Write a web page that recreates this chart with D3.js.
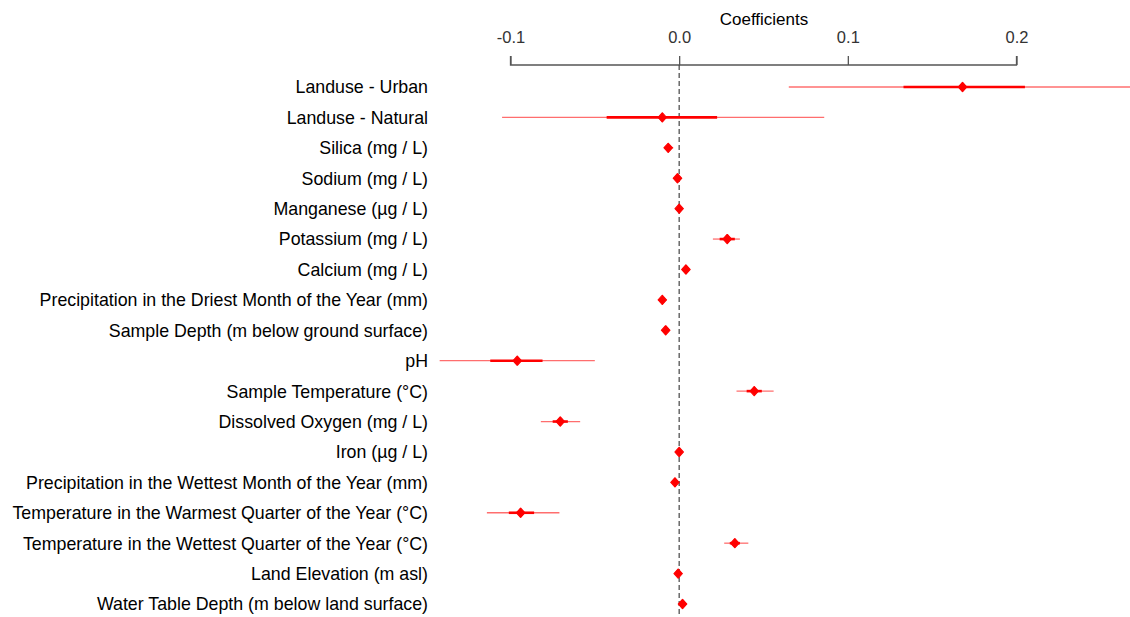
<!DOCTYPE html>
<html lang="en">
<head>
	<meta charset="UTF-8">
	<title>Coefficients</title>
	<script type="text/javascript" src="https://cdn.jsdelivr.net/npm/d3@7"></script>
	<style>
		body { margin: 0; background: #fff; }
		text { font-family: "Liberation Sans", Arial, sans-serif; }
		.label { font-size: 17.8px; fill: #000; }
		.tick text { font-size: 16.5px; fill: #333; }
		.axis path, .axis line { stroke: #555; stroke-width: 1.3px; }
	</style>
</head>
<body>
<script type="text/javascript">
	var labels = [
		'Landuse - Urban', 'Landuse - Natural', 'Silica (mg / L)', 'Sodium (mg / L)',
		'Manganese (\u00b5g / L)', 'Potassium (mg / L)', 'Calcium (mg / L)',
		'Precipitation in the Driest Month of the Year (mm)',
		'Sample Depth (m below ground surface)', 'pH', 'Sample Temperature (\u00b0C)',
		'Dissolved Oxygen (mg / L)', 'Iron (\u00b5g / L)',
		'Precipitation in the Wettest Month of the Year (mm)',
		'Temperature in the Warmest Quarter of the Year (\u00b0C)',
		'Temperature in the Wettest Quarter of the Year (\u00b0C)',
		'Land Elevation (m asl)', 'Water Table Depth (m below land surface)'
	];
	var estimate = [0.168, -0.010, -0.0065, -0.001, 0.000, 0.0285, 0.004, -0.010, -0.008,
		-0.096, 0.0445, -0.0705, 0.000, -0.0025, -0.094, 0.033, -0.0006, 0.002];
	// inner interval (thick)
	var innerLo = [0.133, -0.043, -0.008, -0.0015, -0.0004, 0.024, 0.003, -0.0115, -0.009,
		-0.112, 0.040, -0.075, -0.0004, -0.003, -0.101, 0.030, -0.001, 0.0015];
	var innerHi = [0.205, 0.0225, -0.005, -0.0005, 0.0004, 0.033, 0.005, -0.0085, -0.007,
		-0.081, 0.049, -0.066, 0.0004, -0.002, -0.086, 0.036, -0.0002, 0.0035];
	// outer interval (thin)
	var outerLo = [0.065, -0.105, -0.009, -0.002, -0.0008, 0.020, 0.0025, -0.0125, -0.0095,
		-0.142, 0.034, -0.082, -0.0008, -0.0035, -0.114, 0.0267, -0.0015, 0.001];
	var outerHi = [0.275, 0.086, -0.0035, 0.0000, 0.0008, 0.036, 0.0055, -0.0075, -0.0065,
		-0.050, 0.056, -0.0587, 0.0008, -0.0015, -0.071, 0.041, 0.0003, 0.0045];
	var tickValues = [-0.1, 0.0, 0.1, 0.2];

	var W = 1130, H = 617;
	var svg = d3.select('body').append('svg')
		.attr('width', W).attr('height', H);

	var x = d3.scaleLinear().domain([-0.1, 0.2]).range([510.5, 1016.5]);
	var y = d3.scalePoint().domain(labels).range([87, 604]);

	svg.append('clipPath').attr('id', 'c')
		.append('rect').attr('x', 0).attr('y', 0).attr('width', W).attr('height', H);

	var fmt = function(d){ return d3.format('.1f')(d).replace('\u2212', '-'); };

	svg.append('g')
		.attr('class', 'axis')
		.attr('transform', 'translate(0,65)')
		.call(d3.axisTop(x).tickValues(tickValues).tickFormat(fmt).tickSize(9).tickPadding(13))
		.call(function(g){ g.select('.domain').attr('d', 'M' + x(-0.1) + ',-9V0H' + x(0.2) + 'V-9'); });

	svg.append('text')
		.attr('x', 764).attr('y', 25)
		.attr('text-anchor', 'middle')
		.style('font-size', '17px')
		.text('Coefficients');

	svg.append('line')
		.attr('x1', x(0)).attr('x2', x(0))
		.attr('y1', 65).attr('y2', H)
		.attr('stroke', '#444').attr('stroke-width', 1.2)
		.attr('stroke-dasharray', '5,3');

	var rows = svg.append('g').attr('clip-path', 'url(#c)')
		.selectAll('g.row').data(labels).enter().append('g').attr('class', 'row');

	rows.append('line')
		.attr('x1', function(d, i){ return x(outerLo[i]); })
		.attr('x2', function(d, i){ return x(outerHi[i]); })
		.attr('y1', function(d){ return y(d); })
		.attr('y2', function(d){ return y(d); })
		.attr('stroke', '#ff5555').attr('stroke-opacity', 0.85).attr('stroke-width', 1.3);

	rows.append('line')
		.attr('x1', function(d, i){ return x(innerLo[i]); })
		.attr('x2', function(d, i){ return x(innerHi[i]); })
		.attr('y1', function(d){ return y(d); })
		.attr('y2', function(d){ return y(d); })
		.attr('stroke', '#ff0000').attr('stroke-width', 2.6);

	rows.append('path')
		.attr('d', d3.symbol().type(d3.symbolDiamond).size(26))
		.attr('transform', function(d, i){ return 'translate(' + x(estimate[i]) + ',' + y(d) + ') scale(1.55,1)'; })
		.attr('fill', '#ff0000')
		.attr('stroke', '#ff0000').attr('stroke-width', 0.8).attr('stroke-linejoin', 'round');

	svg.selectAll('text.label').data(labels).enter().append('text')
		.attr('class', 'label')
		.attr('x', 428)
		.attr('y', function(d){ return y(d); })
		.attr('dy', '0.36em')
		.attr('text-anchor', 'end')
		.text(function(d){ return d; });
</script>
</body>
</html>
